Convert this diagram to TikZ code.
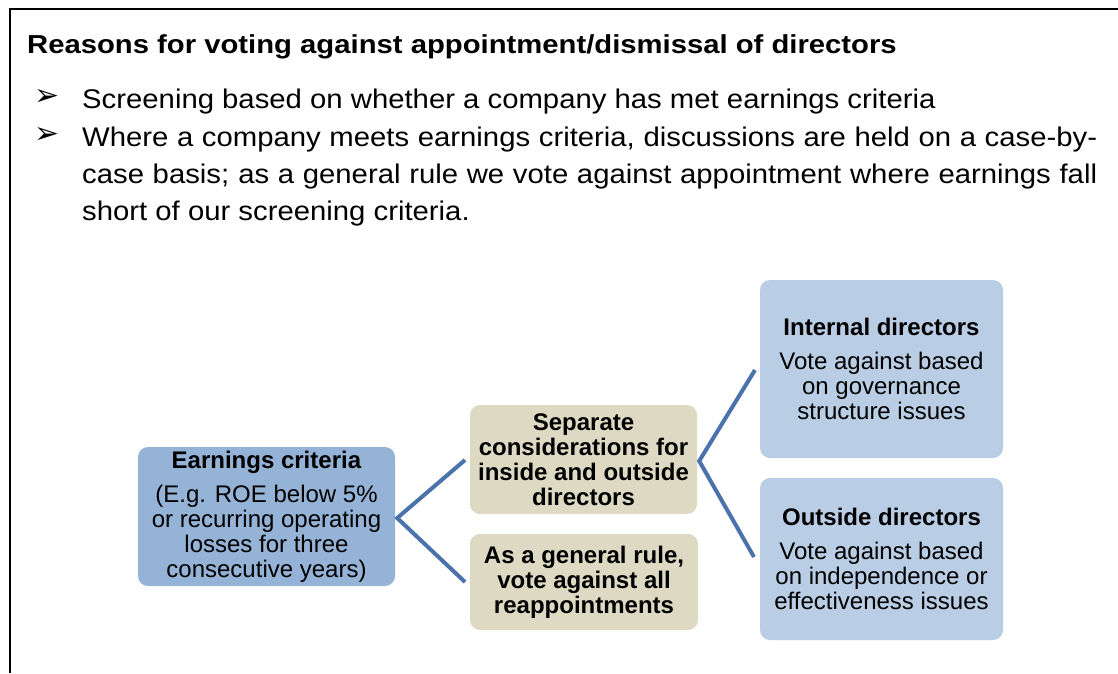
\documentclass[tikz,border=0pt]{standalone}
\usepackage{fontspec}
\setmainfont{Liberation Sans}
\newfontfamily\titlefam{Liberation Sans}[FakeStretch=1.125]
\newfontfamily\bodyfam{Liberation Sans}[FakeStretch=1.085]
\newfontfamily\symfam{DejaVu Sans}
\usetikzlibrary{calc}
\definecolor{earnblue}{HTML}{95B3D7}
\definecolor{lightblue}{HTML}{B9CDE5}
\definecolor{tanbox}{HTML}{DDD9C3}
\definecolor{linkblue}{HTML}{4A72AB}
\begin{document}
\begin{tikzpicture}[x=1pt,y=-1pt,
  box/.style={rectangle, rounded corners=10pt, inner sep=0pt, align=center,
    font=\fontsize{24}{25}\selectfont},
  earnbox/.style={box, fill=earnblue},
  tbox/.style={box, fill=tanbox, font=\bfseries\fontsize{24}{25}\selectfont},
  dirbox/.style={box, fill=lightblue},
  link/.style={draw=linkblue, line width=4pt, line join=miter},
  bodyline/.style={anchor=base west, inner sep=0pt, font=\bodyfam\fontsize{27}{27}\selectfont},
  bul/.style={inner sep=0pt, font=\symfam\fontsize{30}{30}\selectfont},
  frame/.style={line width=2pt, draw=black}]
\useasboundingbox (0,0) rectangle (1118,673);
\draw[frame] (10,673) -- (10,9) -- (1118,9);

\node[anchor=base west, inner sep=0pt, font=\titlefam\bfseries\fontsize{26}{26}\selectfont] (title) at (27,53)
  {Reasons for voting against appointment/dismissal of directors};

\node[bul] (b1) at (47.5,97.5) {➢};
\node[bul] (b2) at (47.5,135.5) {➢};
\node[bodyline] (l1) at (82,108) {Screening based on whether a company has met earnings criteria};
\node[bodyline] (l2) at (82,146) {\makebox[1015pt][s]{Where a company meets earnings criteria, discussions are held on a case-by-}};
\node[bodyline] (l3) at (82,183) {\makebox[1015pt][s]{case basis; as a general rule we vote against appointment where earnings fall}};
\node[bodyline] (l4) at (82,220) {short of our screening criteria.};

\node[earnbox, minimum width=257pt, minimum height=139pt] (earn) at (266.5,516.5)
  {\textbf{Earnings criteria}\\[9pt](E.g. ROE below 5\%\\or recurring operating\\losses for three\\consecutive years)};
\node[tbox, minimum width=227pt, minimum height=109pt] (sep) at (583.5,459.5)
  {Separate\\considerations for\\inside and outside\\directors};
\node[tbox, minimum width=228pt, minimum height=96pt] (gen) at (584,582)
  {As a general rule,\\vote against all\\reappointments};
\node[dirbox, minimum width=243pt, minimum height=178pt] (int) at (881.5,369)
  {\textbf{Internal directors}\\[9pt]Vote against based\\on governance\\structure issues};
\node[dirbox, minimum width=243pt, minimum height=162pt] (out) at (881.5,559)
  {\textbf{Outside directors}\\[9pt]Vote against based\\on independence or\\effectiveness issues};

\coordinate (e1a) at (465,460);
\coordinate (e1b) at (465,582);
\coordinate (e2a) at (755,370);
\coordinate (e2b) at (754,557);
\draw[link] (e1a) -- ($(earn.east)+(2,1.5)$) -- (e1b);
\draw[link] (e2a) -- ($(sep.east)+(2,1.5)$) -- (e2b);
\end{tikzpicture}
\end{document}
